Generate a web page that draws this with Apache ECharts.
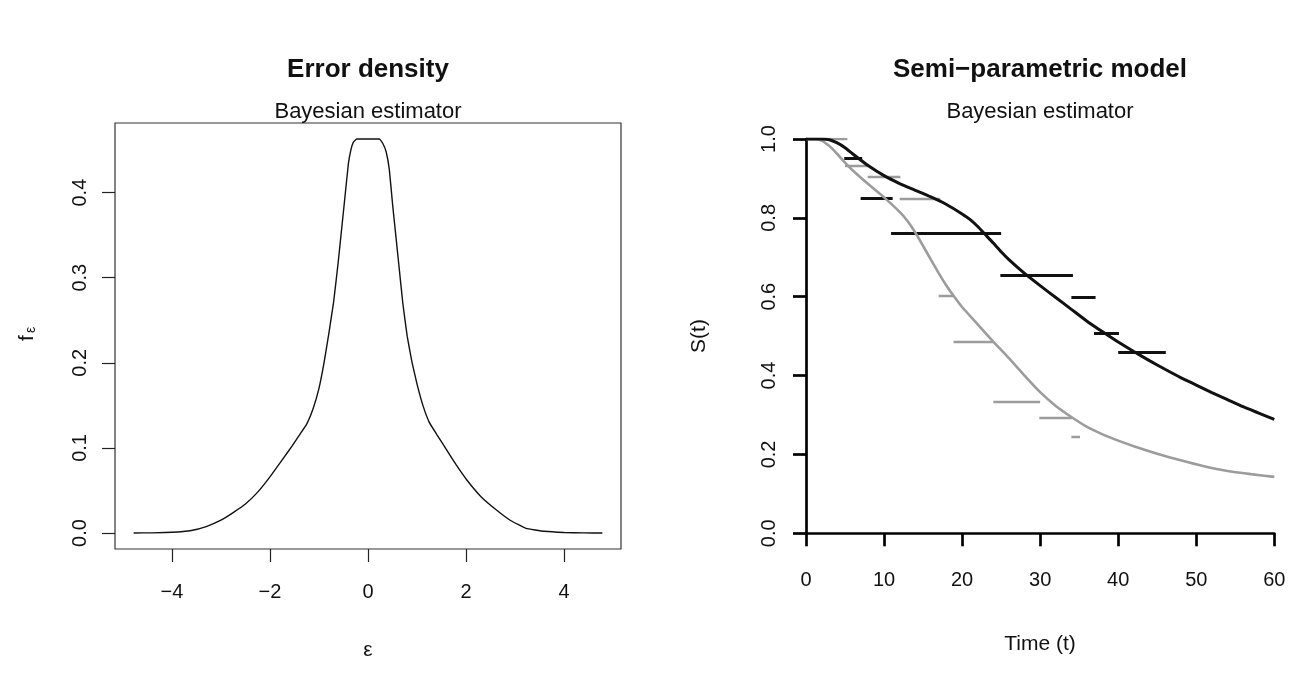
<!DOCTYPE html>
<html>
<head>
<meta charset="utf-8">
<script src="https://cdn.jsdelivr.net/npm/echarts@6/dist/echarts.min.js"></script>
<style>
  html, body { margin: 0; padding: 0; background: #fff; }
  #chart { width: 1305px; height: 683px; }
</style>
</head>
<body>
<div id="chart"></div>
<script>
// ---- Error density (posterior estimate of the residual density) ----
const epsGrid = [-4.78, -4.4, -4.0, -3.6, -3.3, -3.0, -2.75, -2.5, -2.25, -2.0, -1.75, -1.55, -1.4, -1.25, -1.12,
  -1.0, -0.9, -0.8, -0.7, -0.61, -0.54, -0.47, -0.40, -0.35, -0.30, -0.23,
  0.23, 0.30, 0.37, 0.435, 0.50, 0.57, 0.64, 0.71, 0.80, 0.90, 1.0, 1.12, 1.25, 1.4, 1.6, 1.80, 2.02,
  2.30, 2.62, 2.90, 3.22, 3.60, 4.0, 4.4, 4.78];
const epsDensity = [0.0, 0.0002, 0.0008, 0.003, 0.0075, 0.015, 0.024, 0.034, 0.048, 0.066, 0.086, 0.102, 0.115, 0.128, 0.146,
  0.170, 0.199, 0.234, 0.272, 0.317, 0.356, 0.395, 0.434, 0.450, 0.459, 0.463,
  0.463, 0.458, 0.448, 0.427, 0.387, 0.348, 0.309, 0.270, 0.231, 0.200, 0.175, 0.150, 0.130, 0.116, 0.098, 0.080, 0.062,
  0.043, 0.027, 0.015, 0.0055, 0.002, 0.0006, 0.0001, 0.0];
const epsTicks = [-4, -2, 0, 2, 4];
const densTicks = [0, 0.1, 0.2, 0.3, 0.4];

// ---- Semi-parametric model: survival curves ----
const timeBlack = [0, 2, 3, 4, 5, 6, 8, 10, 12, 14, 16, 18, 20, 21, 22, 23, 24, 25, 26, 28, 30, 32, 34, 36, 38,
  40, 42, 44, 46, 48, 50, 52, 54, 56, 58, 60];
const survBlack = [1, 1, 0.998, 0.99, 0.978, 0.962, 0.932, 0.907, 0.887, 0.870, 0.853, 0.834, 0.810, 0.796, 0.778,
  0.757, 0.736, 0.714, 0.694, 0.659, 0.628, 0.598, 0.568, 0.538, 0.511, 0.485, 0.461, 0.438, 0.416, 0.395, 0.376,
  0.357, 0.339, 0.321, 0.305, 0.289];
const timeGrey = [0, 1, 2, 3, 4, 5, 6, 8, 10, 12, 13, 14, 15, 16, 17, 18, 19, 20, 22, 24, 26, 28, 30, 32, 34, 36,
  38, 40, 42, 45, 48, 51, 54, 57, 60];
const survGrey = [1, 1, 0.996, 0.982, 0.962, 0.94, 0.92, 0.885, 0.852, 0.815, 0.792, 0.763, 0.729, 0.694, 0.660,
  0.628, 0.600, 0.574, 0.530, 0.486, 0.444, 0.400, 0.358, 0.323, 0.295, 0.270, 0.251, 0.235, 0.221, 0.202, 0.185,
  0.170, 0.158, 0.150, 0.143];

// interval estimates drawn as horizontal bars
const blackFrom  = [4.9, 7.0, 10.9, 24.9, 34.0, 36.9, 40.0];
const blackTo    = [7.2, 11.1, 25.0, 34.2, 37.1, 40.1, 46.1];
const blackLevel = [0.951, 0.849, 0.761, 0.654, 0.598, 0.507, 0.46];
const greyFrom   = [0, 5.0, 7.9, 12.0, 17.0, 18.9, 24.0, 29.9, 34.0];
const greyTo     = [5.3, 8.0, 12.1, 17.2, 18.9, 24.0, 30.0, 34.1, 35.1];
const greyLevel  = [1.0, 0.932, 0.905, 0.848, 0.602, 0.486, 0.334, 0.294, 0.245];

const timeTicks = [0, 10, 20, 30, 40, 50, 60];
const survTicks = [0, 0.2, 0.4, 0.6, 0.8, 1.0];

const FONT = '"Liberation Sans", Arial, Helvetica, sans-serif';
const INK = '#111';
const GREY = '#9c9c9c';

const zip = (xs, ys) => xs.map((x, i) => [x, ys[i]]);
const bars = (from, to, level) => from.map((f, i) => ({ coords: [[f, level[i]], [to[i], level[i]]] }));
const minus = v => String(v).replace('-', '\u2212');

function txt(text, x, y, size, opts) {
  opts = opts || {};
  return {
    type: 'text', x: x, y: y, rotation: opts.rotation || 0, silent: true,
    style: {
      text: text, fill: INK,
      font: (opts.bold ? 'bold ' : '') + size + 'px ' + FONT,
      align: 'center', verticalAlign: 'middle',
      textAlign: 'center', textVerticalAlign: 'middle'
    }
  };
}

const chart = echarts.init(document.getElementById('chart'), null, { renderer: 'canvas' });

chart.setOption({
  animation: false,
  backgroundColor: '#fff',
  grid: [
    { left: 115, top: 123, width: 506, height: 426, show: true, borderColor: '#333', borderWidth: 1.2,
      backgroundColor: 'transparent', containLabel: false },
    { left: 806, top: 139, width: 468.3, height: 394.3, show: false, containLabel: false }
  ],
  xAxis: [
    {
      gridIndex: 0, type: 'value', min: -5.16, max: 5.16,
      axisLine: { show: false, onZero: false },
      axisTick: { show: true, length: 13, customValues: epsTicks, lineStyle: { color: '#222', width: 1.2 } },
      axisLabel: { customValues: epsTicks, formatter: v => minus(v), margin: 33,
        fontSize: 20, fontFamily: FONT, color: INK },
      splitLine: { show: false }
    },
    {
      gridIndex: 1, type: 'value', min: 0, max: 60, interval: 10,
      axisLine: { show: true, onZero: false, lineStyle: { color: '#000', width: 2.7 } },
      axisTick: { show: true, length: 13, lineStyle: { color: '#000', width: 2.7 } },
      axisLabel: { margin: 37, fontSize: 20, fontFamily: FONT, color: INK, formatter: v => String(v) },
      splitLine: { show: false }
    }
  ],
  yAxis: [
    {
      gridIndex: 0, type: 'value', min: -0.0188, max: 0.4818,
      axisLine: { show: false, onZero: false },
      axisTick: { show: true, length: 13, customValues: densTicks, lineStyle: { color: '#222', width: 1.2 } },
      axisLabel: { customValues: densTicks, rotate: 90, margin: 25, formatter: v => v.toFixed(1),
        fontSize: 20, fontFamily: FONT, color: INK },
      splitLine: { show: false }
    },
    {
      gridIndex: 1, type: 'value', min: 0, max: 1, interval: 0.2,
      axisLine: { show: true, onZero: false, lineStyle: { color: '#000', width: 2.7 } },
      axisTick: { show: true, length: 13, lineStyle: { color: '#000', width: 2.7 } },
      axisLabel: { rotate: 90, margin: 27, formatter: v => v.toFixed(1),
        fontSize: 20, fontFamily: FONT, color: INK },
      splitLine: { show: false }
    }
  ],
  series: [
    {
      name: 'density', type: 'line', xAxisIndex: 0, yAxisIndex: 0,
      data: zip(epsGrid, epsDensity), showSymbol: false, smooth: 0.1,
      lineStyle: { color: INK, width: 1.4 }, silent: true
    },
    {
      name: 'survival (grey)', type: 'line', xAxisIndex: 1, yAxisIndex: 1,
      data: zip(timeGrey, survGrey), showSymbol: false, smooth: 0.2,
      lineStyle: { color: GREY, width: 2.6 }, silent: true
    },
    {
      name: 'survival (black)', type: 'line', xAxisIndex: 1, yAxisIndex: 1,
      data: zip(timeBlack, survBlack), showSymbol: false, smooth: 0.2,
      lineStyle: { color: INK, width: 3 }, silent: true
    },
    {
      name: 'intervals (grey)', type: 'lines', coordinateSystem: 'cartesian2d', xAxisIndex: 1, yAxisIndex: 1,
      data: bars(greyFrom, greyTo, greyLevel), polyline: false, silent: true,
      lineStyle: { color: GREY, width: 2.4, opacity: 1 }
    },
    {
      name: 'intervals (black)', type: 'lines', coordinateSystem: 'cartesian2d', xAxisIndex: 1, yAxisIndex: 1,
      data: bars(blackFrom, blackTo, blackLevel), polyline: false, silent: true,
      lineStyle: { color: INK, width: 3, opacity: 1 }
    }
  ],
  graphic: [
    txt('Error density', 368, 69.5, 26, { bold: true }),
    txt('Bayesian estimator', 368, 111.8, 22),
    txt('\u03b5', 368, 649.8, 21),
    txt('f', 26.8, 338, 21, { rotation: Math.PI / 2 }),
    txt('\u03b5', 31.5, 330, 14, { rotation: Math.PI / 2 }),
    txt('Semi\u2212parametric model', 1040, 69.5, 26, { bold: true }),
    txt('Bayesian estimator', 1040, 111.8, 22),
    txt('Time (t)', 1040, 643.8, 21),
    txt('S(t)', 698.8, 336, 21, { rotation: Math.PI / 2 })
  ]
});
</script>
</body>
</html>
